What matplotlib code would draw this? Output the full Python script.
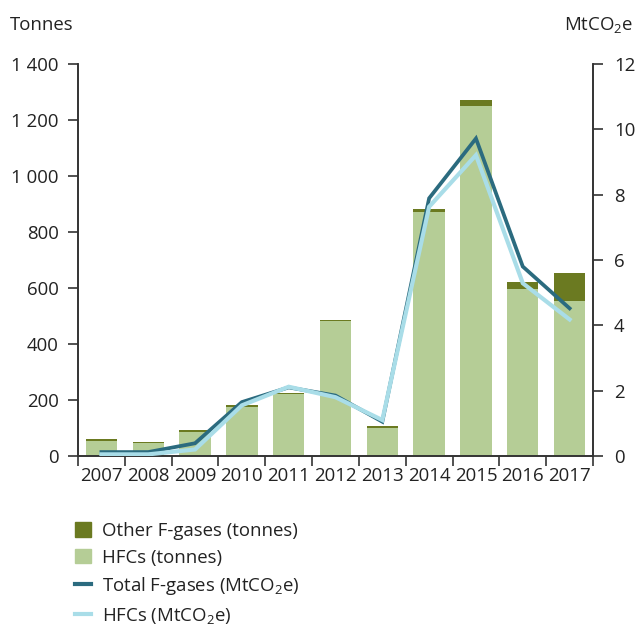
import matplotlib
matplotlib.use("Agg")
import matplotlib.pyplot as plt
from matplotlib.patches import Patch
from matplotlib.lines import Line2D
import numpy as np

plt.rcParams['font.family'] = ['Open Sans', 'DejaVu Sans']
plt.rcParams['mathtext.fontset'] = 'custom'
plt.rcParams['mathtext.rm'] = 'Open Sans'
plt.rcParams['mathtext.it'] = 'Open Sans'
plt.rcParams['mathtext.default'] = 'regular'

years = ['2007', '2008', '2009', '2010', '2011', '2012', '2013', '2014', '2015', '2016', '2017']
hfc_tonnes = [52, 46, 85, 175, 220, 482, 100, 873, 1250, 598, 552]
other_tonnes = [7, 5, 7, 6, 5, 5, 6, 9, 21, 22, 100]
total_mt = [0.12, 0.12, 0.39, 1.65, 2.1, 1.85, 1.05, 7.89, 9.72, 5.8, 4.52]
hfc_mt = [0.05, 0.05, 0.2, 1.55, 2.12, 1.8, 1.1, 7.63, 9.21, 5.29, 4.18]
left_ticks = [0, 200, 400, 600, 800, 1000, 1200, 1400]
left_ticklabels = ['0', '200', '400', '600', '800', '1 000', '1 200', '1 400']
right_ticks = [0, 2, 4, 6, 8, 10, 12]

c_other = '#6b7a21'
c_hfc = '#b5cd96'
c_total = '#2b6b7f'
c_hfcl = '#a9dde8'
c_axis = '#333333'
c_text = '#222222'
fs = 13.4

fig = plt.figure(figsize=(6.36, 6.28), dpi=100)
ax = fig.add_axes([78/636, 1-456/628, (593-78)/636, (456-64)/628])
x = np.arange(len(years))
ax.bar(x, hfc_tonnes, width=0.67, color=c_hfc, zorder=2)
ax.bar(x, other_tonnes, bottom=hfc_tonnes, width=0.67, color=c_other, zorder=2)
ax.set_xlim(-0.5, len(years)-0.5)
ax.set_ylim(0, 1400)
ax.set_yticks(left_ticks)
ax.set_yticklabels(left_ticklabels, fontsize=fs, color=c_text)
ax.set_xticks(x)
ax.set_xticklabels(years, fontsize=fs, color=c_text)
ax.tick_params(axis='x', length=0, pad=8)
ax.set_xticks(np.arange(-0.5, len(years)), minor=True)
ax.tick_params(axis='x', which='minor', length=7, width=1.2, color=c_axis, direction='out')
ax.tick_params(axis='y', length=7, width=1.2, color=c_axis, direction='out', pad=7)
ax.spines['top'].set_visible(False)
for s in ['left', 'right', 'bottom']:
    ax.spines[s].set_color(c_axis)
    ax.spines[s].set_linewidth(1.2)

ax2 = ax.twinx()
ax2.plot(x, total_mt, color=c_total, lw=2.7, zorder=3, solid_joinstyle='miter')
ax2.plot(x, hfc_mt, color=c_hfcl, lw=3.0, zorder=4, solid_joinstyle='miter')
ax2.set_ylim(0, 12)
ax2.set_yticks(right_ticks)
ax2.set_yticklabels([str(t) for t in right_ticks], fontsize=fs, color=c_text)
ax2.tick_params(axis='y', length=7, width=1.2, color=c_axis, direction='out', pad=8)
ax2.spines['top'].set_visible(False)
for s in ['left', 'right', 'bottom']:
    ax2.spines[s].set_color(c_axis)
    ax2.spines[s].set_linewidth(1.2)

fig.text(10/636, 1-25/628, 'Tonnes', fontsize=fs, va='center', ha='left', color=c_text)
fig.text(564/636, 1-25/628, 'MtCO$_2$e', fontsize=fs, va='center', ha='left', color=c_text)

handles = [Patch(color=c_other), Patch(color=c_hfc),
           Line2D([], [], color=c_total, lw=3.0), Line2D([], [], color=c_hfcl, lw=3.0)]
labels = ['Other F-gases (tonnes)', 'HFCs (tonnes)', 'Total F-gases (MtCO$_2$e)',
          'HFCs (MtCO$_2$e)']
fig.legend(handles, labels, loc='upper left', bbox_to_anchor=(75/636, 1-522/628), frameon=False,
           fontsize=fs, handlelength=0.85, handleheight=0.8, handletextpad=0.6, labelspacing=0.46,
           borderaxespad=0, borderpad=0, labelcolor=c_text)

fig.savefig('out.png', dpi=100)
